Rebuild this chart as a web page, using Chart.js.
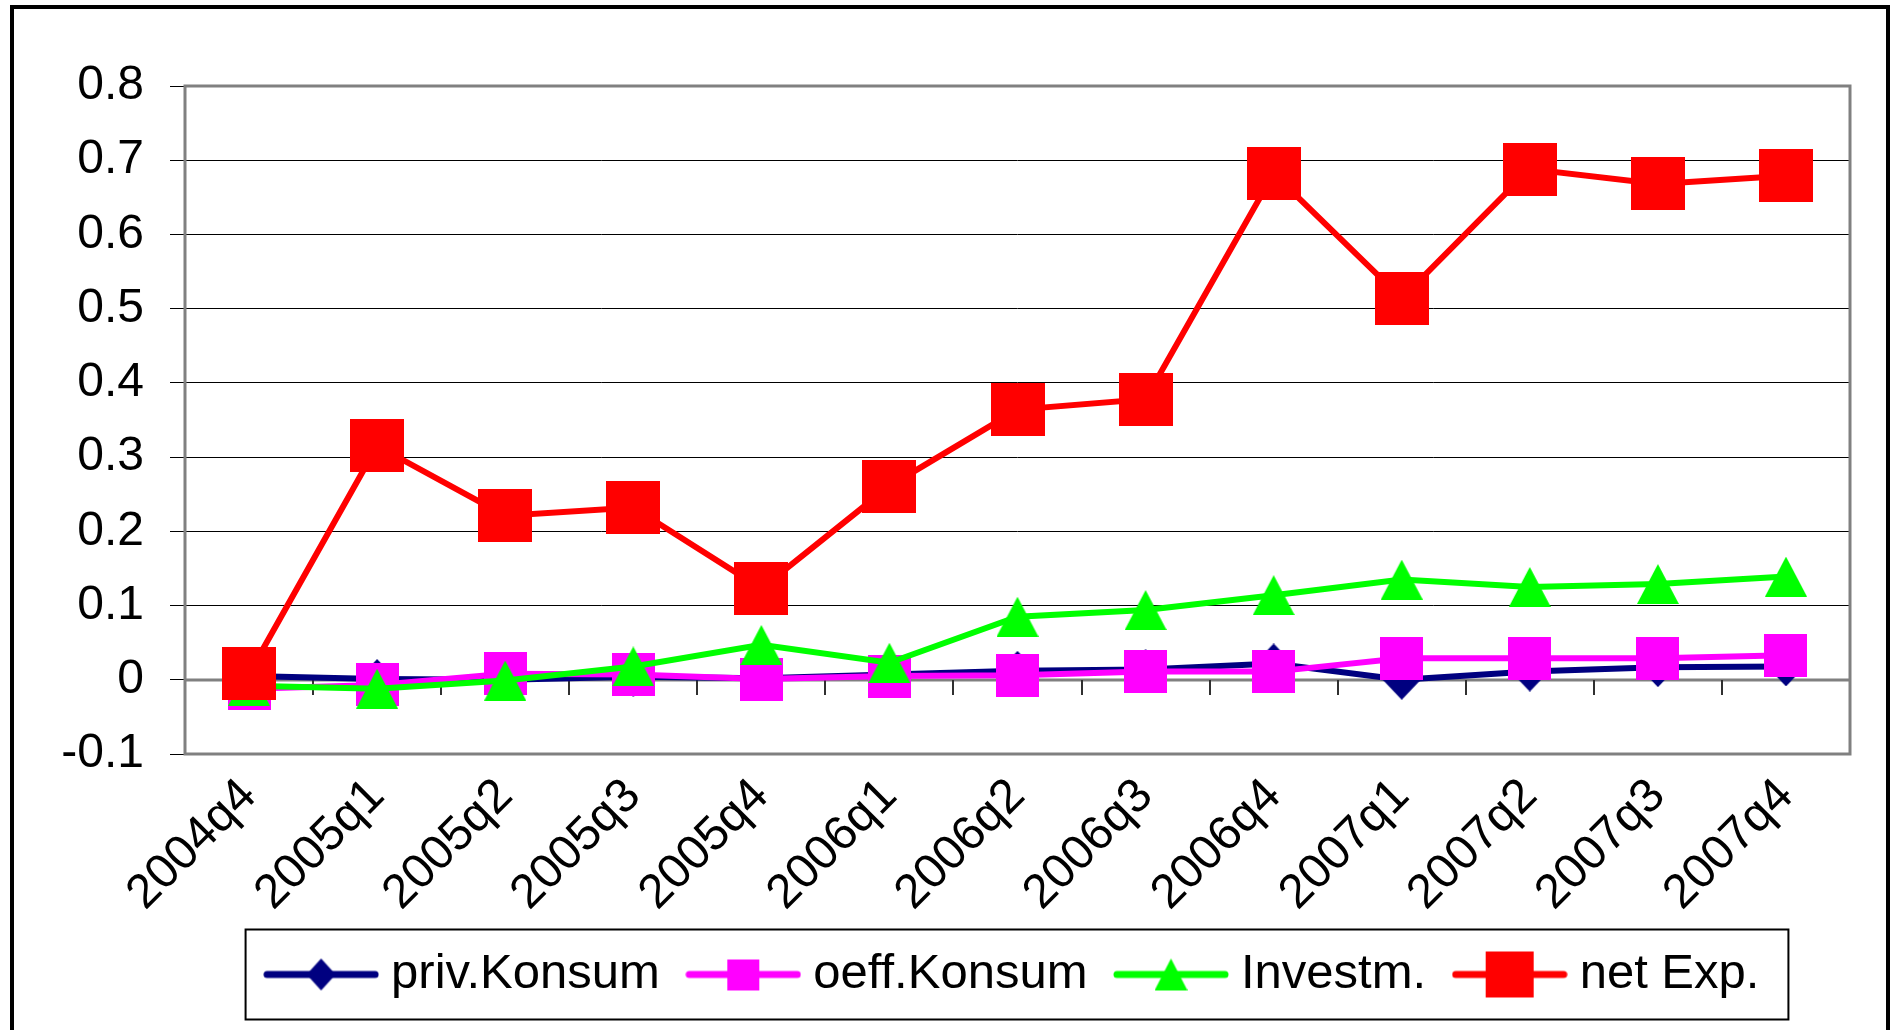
<!DOCTYPE html>
<html>
<head>
<meta charset="utf-8">
<script src="https://cdn.jsdelivr.net/npm/chart.js@4.4.1/dist/chart.umd.min.js"></script>
<style>
  html, body { margin: 0; padding: 0; background: #fff; }
  canvas { display: block; }
</style>
</head>
<body>
<canvas id="chart" width="1890" height="1030"></canvas>
<script>
// quarters on the x axis
const quarters = ['2004q4', '2005q1', '2005q2', '2005q3', '2005q4', '2006q1', '2006q2',
                  '2006q3', '2006q4', '2007q1', '2007q2', '2007q3', '2007q4'];

// series values
const privKonsum = [0.005, 0.001, 0.000, 0.004, 0.002, 0.007, 0.012, 0.014, 0.022, 0.000, 0.011, 0.017, 0.018];
const oeffKonsum = [-0.012, -0.007, 0.008, 0.007, 0.001, 0.005, 0.006, 0.011, 0.011, 0.029, 0.029, 0.029, 0.033];
const investm = [-0.008, -0.012, -0.001, 0.018, 0.047, 0.023, 0.085, 0.094, 0.114, 0.135, 0.125, 0.129, 0.139];
const netExp = [0.008, 0.315, 0.221, 0.232, 0.123, 0.261, 0.364, 0.378, 0.682, 0.514, 0.688, 0.668, 0.679];

const seriesNames = ['priv.Konsum', 'oeff.Konsum', 'Investm.', 'net Exp.'];
const yTicks = { min: -0.1, max: 0.8, step: 0.1 };

Chart.defaults.font.family = '"Liberation Sans", Arial, sans-serif';
Chart.defaults.color = '#000';

// marker pictures (Excel style: diamond, square, triangle, big square)
function makeMarker(shape, color, w, h) {
    const c = document.createElement('canvas');
    c.width = w;
    c.height = h;
    const g = c.getContext('2d');
    g.fillStyle = color;
    g.beginPath();
    if (shape === 'diamond') {
        g.moveTo(w / 2, 0); g.lineTo(w, h / 2); g.lineTo(w / 2, h); g.lineTo(0, h / 2);
    } else if (shape === 'triangle') {
        g.moveTo(w / 2, 0); g.lineTo(w, h); g.lineTo(0, h);
    } else {
        g.rect(0, 0, w, h);
    }
    g.closePath();
    g.fill();
    return c;
}

// legend icon: short line with the marker in the middle
function makeLegendIcon(shape, color, mw, mh) {
    const w = 116, h = 52;
    const c = document.createElement('canvas');
    c.width = w;
    c.height = h;
    const g = c.getContext('2d');
    g.strokeStyle = color;
    g.lineWidth = 7;
    g.lineCap = 'round';
    g.beginPath();
    g.moveTo(4, h / 2);
    g.lineTo(w - 4, h / 2);
    g.stroke();
    g.drawImage(makeMarker(shape, color, mw, mh), (w - mw) / 2, (h - mh) / 2);
    return c;
}

const colors = ['#000080', '#ff00ff', '#00ff00', '#ff0000'];
const markers = [
    makeMarker('diamond', colors[0], 38, 40),
    makeMarker('square', colors[1], 43, 43),
    makeMarker('triangle', colors[2], 42, 40),
    makeMarker('square', colors[3], 54, 53)
];
const legendIcons = [
    makeLegendIcon('diamond', colors[0], 29, 32),
    makeLegendIcon('square', colors[1], 32, 31),
    makeLegendIcon('triangle', colors[2], 33, 32),
    makeLegendIcon('square', colors[3], 48, 46)
];

const seriesData = [privKonsum, oeffKonsum, investm, netExp];

const framePlugin = {
    id: 'frame',
    beforeDraw(chart) {
        const ctx = chart.ctx;
        ctx.save();
        ctx.fillStyle = '#fff';
        ctx.fillRect(0, 0, chart.width, chart.height);
        ctx.restore();
    },
    beforeDatasetsDraw(chart) {
        const { ctx, chartArea: a, scales } = chart;
        const x = scales.x, y = scales.y;
        ctx.save();
        // zero line with tick marks at the category borders
        const y0 = Math.round(y.getPixelForValue(0));
        ctx.strokeStyle = '#808080';
        ctx.lineWidth = 3;
        ctx.beginPath();
        ctx.moveTo(a.left, y0);
        ctx.lineTo(a.right, y0);
        ctx.stroke();
        ctx.strokeStyle = '#303030';
        ctx.lineWidth = 2;
        ctx.beginPath();
        for (let i = 0; i <= quarters.length; i++) {
            const px = Math.round(x.getPixelForValue(i - 0.5));
            ctx.moveTo(px, y0);
            ctx.lineTo(px, y0 + 15);
        }
        ctx.stroke();
        // plot area border
        ctx.strokeStyle = '#808080';
        ctx.lineWidth = 3;
        ctx.strokeRect(a.left, a.top, a.right - a.left, a.bottom - a.top);
        ctx.restore();
    },
    afterDraw(chart) {
        const ctx = chart.ctx;
        ctx.save();
        // legend box
        const hb = chart.legend.legendHitBoxes;
        if (hb && hb.length) {
            const first = hb[0], last = hb[hb.length - 1];
            const cy = first.top + first.height / 2;
            ctx.strokeStyle = '#000';
            ctx.lineWidth = 2;
            ctx.strokeRect(first.left - 30, cy - 45, last.left + last.width + 29 - (first.left - 30), 90);
        }
        // outer frame
        ctx.strokeStyle = '#000';
        ctx.lineWidth = 4;
        ctx.strokeRect(12, 7, 1876, 1040);
        ctx.restore();
    }
};

new Chart(document.getElementById('chart'), {
    type: 'line',
    data: {
        labels: quarters,
        datasets: seriesData.map((d, i) => ({
            label: seriesNames[i],
            data: d,
            borderColor: colors[i],
            backgroundColor: colors[i],
            borderWidth: 6,
            tension: 0,
            pointStyle: markers[i],
            pointRadius: 10,
            order: 4 - i
        }))
    },
    options: {
        responsive: false,
        animation: false,
        devicePixelRatio: 1,
        layout: { padding: { top: 86, right: 40, bottom: 21, left: 0 } },
        scales: {
            x: {
                type: 'category',
                offset: true,
                grid: { display: false, drawTicks: false },
                border: { display: false },
                ticks: {
                    autoSkip: false,
                    maxRotation: 45,
                    minRotation: 45,
                    padding: 14,
                    font: { size: 48 },
                    color: '#000'
                },
                afterFit(scale) { scale.height = 158; }
            },
            y: {
                min: yTicks.min,
                max: yTicks.max,
                grid: { color: '#000', lineWidth: 1, tickLength: 15 },
                border: { display: false },
                ticks: {
                    stepSize: yTicks.step,
                    padding: 26,
                    font: { size: 48 },
                    color: '#000',
                    callback: v => {
                        const r = Math.round(v * 10) / 10;
                        return r === 0 ? '0' : String(r);
                    }
                },
                afterFit(scale) { scale.width = 185; }
            }
        },
        plugins: {
            tooltip: { enabled: false },
            legend: {
                position: 'bottom',
                fullSize: false,
                labels: {
                    usePointStyle: true,
                    pointStyleWidth: 91,
                    padding: 38,
                    font: { size: 49 },
                    color: '#000',
                    generateLabels: chart => chart.data.datasets.map((ds, i) => ({
                        text: ds.label,
                        pointStyle: legendIcons[i],
                        fillStyle: ds.borderColor,
                        strokeStyle: ds.borderColor,
                        lineWidth: 0,
                        fontColor: '#000',
                        hidden: false,
                        datasetIndex: i
                    }))
                }
            }
        }
    },
    plugins: [framePlugin]
});
</script>
</body>
</html>
